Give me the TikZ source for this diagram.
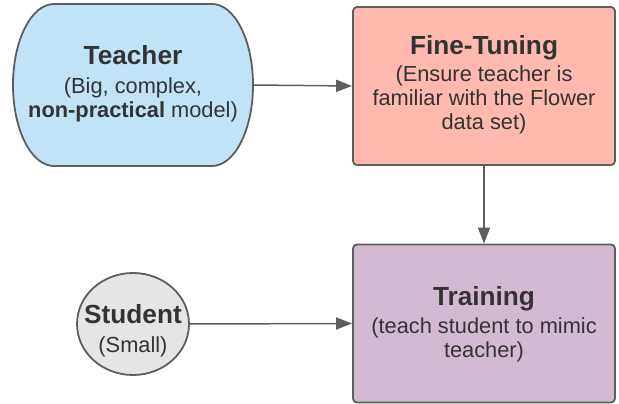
\documentclass[tikz,border=0pt]{standalone}
\usepackage{fontspec}
\setmainfont{Liberation Sans}
\usetikzlibrary{arrows.meta,shapes.geometric}
\definecolor{edge}{HTML}{5E5E5E}
\definecolor{txt}{HTML}{333333}
\definecolor{blueF}{HTML}{C2E3F6}
\definecolor{redF}{HTML}{FFB9AF}
\definecolor{purpleF}{HTML}{D3BAD3}
\definecolor{grayF}{HTML}{E5E5E5}
\newcommand\ttlfont{\fontsize{26.2}{24}\selectfont\bfseries}
\begin{document}
\begin{tikzpicture}[x=1pt,y=1pt,
  shapeline/.style={draw=edge, line width=1.8pt},
  boxnode/.style={shapeline, rounded corners=4pt, minimum width=262pt, minimum height=158pt, inner sep=0pt},
  lbl/.style={text=txt, align=center, inner sep=0pt, font=\fontsize{21.8}{24}\selectfont},
  conn/.style={draw=edge, line width=1.5pt, -{Triangle[length=16pt,width=12pt]}}
]
\useasboundingbox (0,0) rectangle (619,404);
% Teacher stadium shape
\filldraw[shapeline, fill=blueF] (54,400) -- (212,400) arc[start angle=90, end angle=-90, x radius=41, y radius=81] -- (54,238) arc[start angle=270, end angle=90, x radius=41, y radius=81] -- cycle;
\node[minimum width=240pt, minimum height=162pt, inner sep=0pt] (teacher) at (133,319) {};
\node[lbl] (teachertext) at (133,320) {{\ttlfont Teacher}\\[5pt](Big, complex,\\\textbf{non-practical} model)};
% Fine-tuning
\node[boxnode, fill=redF] (fine) at (484,318) {};
\node[lbl] (finetext) at (484,319) {{\ttlfont Fine-Tuning}\\[3pt](Ensure teacher is\\familiar with the Flower\\data set)};
% Training
\node[boxnode, fill=purpleF] (train) at (484,80.5) {};
\node[lbl] (traintext) at (484,80) {{\ttlfont Training}\\[4pt](teach student to mimic\\teacher)};
% Student
\node[ellipse, shapeline, fill=grayF, minimum width=112pt, minimum height=102pt, inner sep=0pt] (student) at (133,80) {};
\node[lbl] (studenttext) at (133,73) {{\ttlfont Student}\\[5pt](Small)};
% connectors
\draw[conn] (teacher.east) -- (fine.west);
\draw[conn] (fine.south) -- (train.north);
\draw[conn] (student.east) -- (train.west);
\end{tikzpicture}
\end{document}
